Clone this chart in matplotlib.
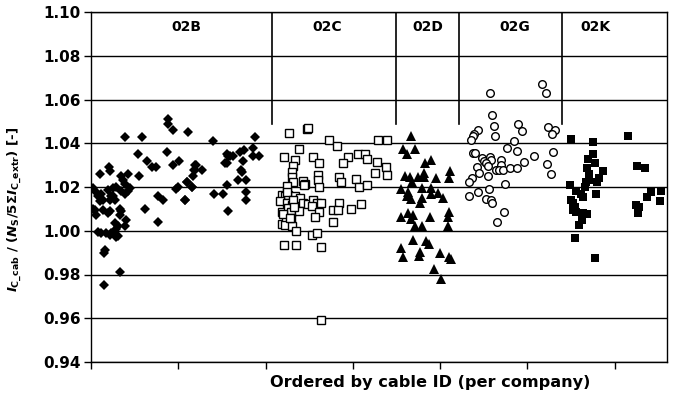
import numpy as np
import matplotlib
matplotlib.use("Agg")
import matplotlib.pyplot as plt

plt.rcParams['font.family'] = ['DejaVu Sans']
plt.rcParams['font.weight'] = 'bold'
plt.rcParams['mathtext.fontset'] = 'custom'
plt.rcParams['mathtext.rm'] = 'DejaVu Sans:bold'
plt.rcParams['mathtext.it'] = 'DejaVu Sans:bold:italic'
plt.rcParams['mathtext.bf'] = 'DejaVu Sans:bold'

# cable index (per company, ordered by cable ID) and normalised current
x_02B = [38.9, 58.1, 87.9, 87.9, 93.6, 111.5, 140.1, 187.9, 54.2, 55.3, 64.5, 70.2, 74.5, 87.4,
         93.6, 101.2, 61.9, 76.4, 82.1, 76.4, 97.4, 100.0, 107.7, 110.3, 115.4, 117.2, 119.1,
         120.3, 127.5, 140.9, 151.5, 155.4, 155.4, 157.3, 157.3, 162.3, 168.7, 170.7, 171.8,
         172.6, 174.5, 175.6, 177.2, 177.2, 177.2, 185.2, 185.9, 192.4, 156.1, 159.2, 153.5,
         20.3, 21.4, 10.7, 34.7, 42.4, 36.7, 38.6, 2.3, 4.2, 8.0, 11.8, 13.7, 10.0, 19.5, 25.2,
         29.0, 23.2, 21.4, 27.1, 25.2, 38.6, 42.4, 44.3, 34.7, 2.3, 6.1, 4.2, 13.7, 19.5, 21.4,
         32.9, 34.7, 32.9, 40.4, 27.1, 30.9, 29.0, 38.6, 8.0, 11.8, 17.5, 21.4, 23.2, 29.0, 30.9,
         15.7, 14.5, 33.6, 14.5, 119.1, 118.0, 109.6, 115.4, 107.7]
y_02B = [1.043, 1.043, 1.051, 1.049, 1.046, 1.045, 1.041, 1.043, 1.035, 1.025, 1.032, 1.029,
         1.029, 1.036, 1.030, 1.032, 1.010, 1.016, 1.014, 1.004, 1.019, 1.020, 1.014, 1.0225,
         1.020, 1.025, 1.028, 1.030, 1.028, 1.017, 1.017, 1.021, 1.031, 1.034, 1.009, 1.034,
         1.023, 1.036, 1.028, 1.027, 1.032, 1.037, 1.023, 1.0175, 1.014, 1.034, 1.038, 1.034,
         1.035, 1.034, 1.031, 1.029, 1.0275, 1.026, 1.025, 1.026, 1.023, 1.0215, 1.0195, 1.018,
         1.0157, 1.017, 1.014, 1.0134, 1.0187, 1.0195, 1.020, 1.016, 1.014, 1.014, 1.0157, 1.017,
         1.018, 1.0195, 1.018, 1.010, 1.007, 1.0096, 1.0096, 1.008, 1.009, 1.010, 1.009, 1.007,
         1.005, 1.0035, 1.002, 1.001, 1.002, 0.9994, 0.999, 0.999, 0.998, 0.999, 0.997, 0.9974,
         0.991, 0.990, 0.981, 0.975, 1.030, 1.028, 1.0225, 1.020, 1.014]

x_02C = [226.8, 247.8, 248.9, 272.6, 281.4, 329.1, 338.7, 238.3, 221.1, 233.7, 254.7, 261.2,
         294.1, 288.3, 306.2, 313.9, 316.5, 327.3, 337.9, 325.3, 339.4, 231.7, 229.9, 229.9,
         231.7, 260.4, 260.4, 261.2, 284.4, 286.0, 303.5, 307.3, 315.8, 224.2, 243.2, 245.1,
         244.0, 218.4, 222.2, 226.0, 233.7, 239.4, 216.5, 224.2, 229.9, 243.2, 248.9, 254.7,
         258.5, 263.1, 252.8, 284.4, 309.0, 218.4, 226.0, 228.8, 238.6, 261.2, 277.6, 283.3,
         297.8, 256.6, 276.8, 218.4, 223.4, 228.8, 222.2, 229.9, 234.8, 252.8, 259.2, 221.1,
         234.5, 263.5, 263.5, 225.0, 231.0, 220.0, 227.5, 232.5]
y_02C = [1.0449, 1.0466, 1.0472, 1.0416, 1.0388, 1.0416, 1.0416, 1.0374, 1.0336, 1.0324,
         1.0336, 1.0309, 1.0336, 1.0312, 1.0350, 1.0350, 1.0327, 1.0316, 1.0291, 1.0263,
         1.0253, 1.0294, 1.0268, 1.0248, 1.0225, 1.0253, 1.0230, 1.0202, 1.0248, 1.0221,
         1.0236, 1.0202, 1.0207, 1.0205, 1.0228, 1.0213, 1.0207, 1.0164, 1.0157, 1.0164,
         1.0161, 1.0149, 1.0134, 1.0126, 1.0119, 1.0126, 1.0122, 1.0142, 1.0126, 1.0126,
         1.0111, 1.0126, 1.0123, 1.0088, 1.0104, 1.0088, 1.0091, 1.0088, 1.0093, 1.0093,
         1.0099, 1.0065, 1.0040, 1.0031, 1.0050, 1.0058, 1.0027, 1.0020, 1.0001, 0.9979,
         0.9989, 0.9936, 0.9936, 0.9926, 0.959, 1.0175, 1.0140, 1.0075, 1.0060, 1.0110]

x_02D = [366.2, 357.0, 361.6, 371.1, 382.6, 389.1, 381.8, 411.2, 410.4, 359.7, 365.4, 367.4,
         374.9, 381.8, 395.2, 355.7, 363.3, 379.3, 390.0, 390.0, 397.6, 403.3, 366.2, 378.8,
         376.9, 362.3, 355.1, 363.5, 368.5, 366.2, 388.3, 410.1, 409.3, 371.1, 378.8, 409.3,
         368.5, 383.7, 387.6, 355.7, 357.8, 376.9, 376.1, 399.8, 410.4, 412.4, 393.2, 400.9]
y_02D = [1.0434, 1.0373, 1.0350, 1.0373, 1.0309, 1.0324, 1.0266, 1.0271, 1.0241, 1.0251,
         1.0245, 1.0225, 1.0245, 1.0248, 1.0241, 1.0190, 1.0179, 1.0195, 1.0195, 1.0169,
         1.0172, 1.0149, 1.0145, 1.0149, 1.0129, 1.0157, 1.0061, 1.0081, 1.0073, 1.0053,
         1.0061, 1.0084, 1.0065, 1.0020, 1.0023, 1.0020, 0.9959, 0.9954, 0.9939, 0.9921,
         0.9878, 0.9901, 0.9883, 0.9898, 0.9880, 0.9872, 0.9826, 0.9779]

x_02G = [457.8, 516.9, 521.2, 459.7, 462.0, 463.2, 489.5, 493.4, 523.8, 531.5, 528.4, 443.6,
         439.0, 437.2, 435.3, 484.8, 477.2, 488.7, 507.8, 529.6, 496.3, 522.0, 527.3, 437.2,
         439.9, 447.5, 450.5, 457.0, 458.9, 453.2, 455.1, 470.4, 470.4, 463.9, 467.7, 472.3,
         480.7, 488.7, 441.8, 444.8, 454.4, 436.1, 433.0, 474.6, 456.2, 443.6, 433.3, 453.2,
         458.2, 460.1, 473.8, 465.1]
y_02G = [1.0632, 1.0670, 1.0632, 1.0530, 1.0479, 1.0431, 1.0487, 1.0458, 1.0476, 1.0461,
         1.0443, 1.0461, 1.0443, 1.0431, 1.0416, 1.0411, 1.0378, 1.0365, 1.0344, 1.0359,
         1.0316, 1.0305, 1.0259, 1.0355, 1.0355, 1.0332, 1.0320, 1.0339, 1.0324, 1.0309,
         1.0297, 1.0324, 1.0301, 1.0279, 1.0279, 1.0279, 1.0286, 1.0286, 1.0291, 1.0263,
         1.0251, 1.0241, 1.0221, 1.0215, 1.0190, 1.0179, 1.0157, 1.0145, 1.0142, 1.0126,
         1.0088, 1.0040]

x_02K = [549.8, 575.4, 615.5, 575.4, 569.6, 577.3, 568.5, 586.8, 570.8, 582.2, 580.4, 567.0,
         570.8, 565.9, 548.7, 555.6, 561.0, 564.0, 578.5, 626.2, 634.6, 642.3, 652.9, 637.7,
         651.8, 624.3, 628.1, 627.0, 549.5, 552.6, 554.4, 551.8, 556.3, 564.0, 567.9, 562.1,
         559.4, 554.4, 577.3]
y_02K = [1.0419, 1.0408, 1.0434, 1.0352, 1.0327, 1.0312, 1.0289, 1.0275, 1.0260, 1.0241,
         1.0225, 1.0225, 1.0233, 1.0202, 1.0210, 1.0184, 1.0169, 1.0154, 1.0169, 1.0294,
         1.0286, 1.0179, 1.0183, 1.0154, 1.0138, 1.0119, 1.0108, 1.0081, 1.0142, 1.0126,
         1.0108, 1.0093, 1.0088, 1.0081, 1.0076, 1.0050, 1.0027, 0.9967, 0.9875]

companies = ["02B", "02C", "02D", "02G", "02K"]
label_x = [109, 271, 386, 486, 578]
separators = [207, 349.4, 421.5, 539.5]

fig = plt.figure(figsize=(6.76, 4.0), dpi=100)
ax = fig.add_axes([0.1346, 0.095, 0.852, 0.875])

ax.set_ylim(0.94, 1.10)
ax.set_xlim(0, 660)
yt = np.arange(0.94, 1.1001, 0.02)
ax.set_yticks(yt)
ax.set_yticklabels(["%.2f" % v for v in yt], fontsize=11, fontweight='bold')
ax.set_xticks(np.arange(0, 601, 100))
ax.set_xticklabels([])
ax.tick_params(axis='both', direction='out', length=5, width=1, color='black', pad=2.5)
ax.yaxis.grid(True, color='black', linewidth=1)
ax.set_axisbelow(True)
for s in ax.spines.values():
    s.set_linewidth(1)
    s.set_color('black')

for xs in separators:
    ax.plot([xs, xs], [1.049, 1.10], color='black', lw=1.2)

ax.plot(x_02B, y_02B, 'D', color='black', ms=4.8, mew=0)
ax.plot(x_02C, y_02C, 's', mfc='white', mec='black', ms=5.2, mew=1)
ax.plot(x_02D, y_02D, '^', color='black', ms=6.5, mew=0)
ax.plot(x_02G, y_02G, 'o', mfc='white', mec='black', ms=5.5, mew=1)
ax.plot(x_02K, y_02K, 's', color='black', ms=5.2, mew=0)

for name, lx in zip(companies, label_x):
    ax.text(lx, 1.093, name, ha='center', va='center', fontsize=10, fontweight='bold')

ax.set_ylabel(r"$I_{\mathrm{C\_cab}}$ / ($N_{\mathrm{S}}$/5Σ$I_{\mathrm{C\_extr}}$) [-]",
              fontsize=9.6, fontweight='bold', va='center')
ax.yaxis.set_label_coords(-0.132, 0.437)
ax.set_xlabel("Ordered by cable ID (per company)", fontsize=11.6, fontweight='bold', va='center')
ax.xaxis.set_label_coords(0.589, -0.06)

fig.savefig("out.png", dpi=100)
